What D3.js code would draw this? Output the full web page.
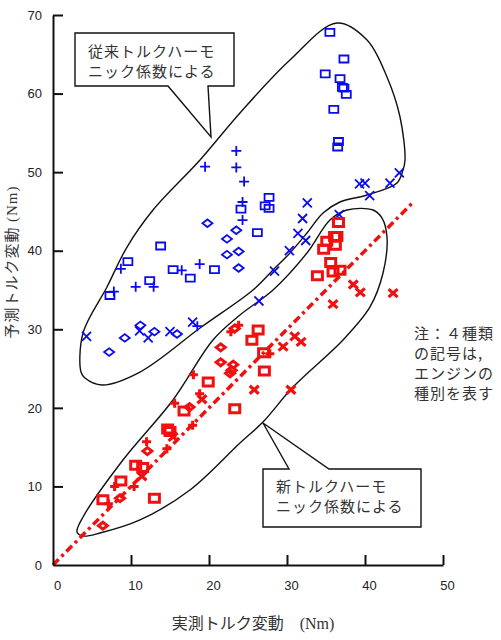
<!DOCTYPE html>
<html>
<head>
<meta charset="utf-8">
<script src="https://cdn.jsdelivr.net/npm/d3@7"></script>
<style>
  body { margin: 0; background: #fff; }
  svg { display: block; }
</style>
</head>
<body>
<svg id="chart" width="501" height="640"></svg>
<script>
// ---- data (Nm): [measured, predicted] ----
const blueSquare = [
  [35.5,67.8],[37.3,64.4],[34.9,62.5],[36.8,61.9],[37.1,60.8],[37.3,60.7],[37.6,59.9],[36.0,58.0],
  [36.6,53.9],[36.5,53.2],[27.7,46.8],[27.2,45.7],[27.7,45.4],[24.1,45.3],[26.2,42.3],[20.7,37.6],
  [17.6,36.5],[15.4,37.6],[13.8,40.6],[9.6,38.6],[12.4,36.2],[7.3,34.3]
];
const bluePlus = [
  [23.5,52.7],[19.5,50.7],[23.5,50.6],[24.5,48.8],[24.3,46.2],[24.3,43.9],[18.8,38.3],[16.5,37.5],
  [8.7,37.7],[12.9,35.4],[10.6,35.4],[7.8,34.8],[18.5,30.4]
];
const blueX = [
  [4.3,29.1],[11.1,29.8],[12.2,28.9],[15.0,29.7],[17.9,30.9],[26.4,33.6],[28.4,37.4],[30.3,40.0],
  [31.4,42.2],[32.4,41.3],[32.0,44.1],[32.6,46.1],[36.7,44.6],[39.3,48.5],[40.0,48.6],[43.2,48.6],
  [44.4,49.9],[40.6,47.0]
];
const blueDiamond = [
  [19.8,43.5],[23.5,42.6],[22.3,41.5],[22.3,39.5],[23.8,39.9],[23.8,37.8],[11.2,30.5],[13.0,29.7],
  [15.9,29.4],[9.2,28.9],[7.2,27.1]
];
const redSquare = [
  [36.6,43.6],[36.1,41.8],[36.4,41.8],[35.1,41.2],[36.2,40.7],[34.7,40.2],[35.6,38.5],[35.9,37.3],
  [36.8,37.5],[33.9,36.8],[26.3,29.9],[25.5,28.6],[27.0,27.0],[27.1,24.7],[19.9,23.3],[23.3,19.9],
  [16.8,19.6],[14.7,17.3],[15.0,17.0],[10.6,12.7],[11.5,12.4],[8.7,10.7],[13.0,8.5],[6.4,8.3]
];
const redPlus = [
  [27.8,26.9],[18.0,24.2],[18.8,21.8],[15.6,20.6],[17.9,17.8],[12.0,15.7],[14.6,14.8],[10.4,10.0],
  [7.9,10.0],[7.1,7.8],[22.8,29.7],[23.8,30.5]
];
const redX = [
  [29.5,27.8],[31.0,29.1],[31.8,28.4],[25.8,22.3],[30.5,22.3],[19.1,21.1],[15.4,16.3],[11.4,11.3],
  [38.5,35.7],[39.4,34.7],[43.6,34.6],[35.9,33.2]
];
const redDiamond = [
  [21.5,27.7],[21.5,25.8],[23.1,25.5],[22.9,24.8],[22.7,24.4],[17.5,20.1],[12.1,14.5],[8.6,8.5],
  [6.4,5.0],[23.3,30.1]
];

// envelope outlines (same units)
const upperBlob = [
  [3.59,24.56],[3.85,29.53],[6.92,35.38],[9.49,40.47],[12.82,45.18],[18.85,51.55],[23.97,57.53],
  [30.38,64.27],[36.41,68.98],[40.26,66.82],[42.82,62.11],[44.49,57.02],[45.13,51.55],[44.87,50.27],
  [44.10,48.62],[40.26,47.09],[36.79,46.20],[34.62,44.80],[32.56,42.25],[30.38,39.71],[28.21,37.55],
  [25.64,35.00],[18.85,30.16],[11.15,24.56],[6.28,22.91],[4.10,23.80]
];
const lowerBlob = [
  [3.08,4.20],[3.85,6.11],[8.97,13.36],[15.38,21.00],[20.51,28.64],[23.97,31.82],[28.21,35.00],
  [32.56,39.71],[35.51,43.91],[37.69,45.18],[41.03,45.18],[42.18,44.16],[42.82,41.75],[42.31,37.16],
  [40.64,32.84],[37.18,28.64],[30.77,22.65],[26.92,18.20],[23.97,15.53],[17.56,9.55],[11.15,5.73],
  [6.03,4.07],[3.85,3.69]
];
const refLine = [[0,0],[46,46]];

const xTicks = [0,10,20,30,40,50];
const yTicks = [0,10,20,30,40,50,60,70];

const BLUE = "#0a0af0", RED = "#f01010";
const JP = "'Noto Sans CJK JP', sans-serif";

// ---- layout ----
const svg = d3.select("#chart");
const x = d3.scaleLinear().domain([0, 50]).range([53, 443]);
const y = d3.scaleLinear().domain([0, 70]).range([565, 15]);

svg.append("rect").attr("width", 501).attr("height", 640).attr("fill", "#fff");

// envelopes
const blob = d3.line().x(d => x(d[0])).y(d => y(d[1])).curve(d3.curveCatmullRomClosed.alpha(0.5));
svg.append("g").attr("fill", "none").attr("stroke", "#111").attr("stroke-width", 1.4)
  .selectAll("path").data([upperBlob, lowerBlob]).join("path")
  .attr("d", blob);

// y = x reference line
svg.append("path")
  .attr("d", d3.line().x(d => x(d[0])).y(d => y(d[1]))(refLine))
  .attr("stroke", RED).attr("stroke-width", 3.5).attr("fill", "none")
  .attr("stroke-dasharray", "8,4,3,4");

// markers
function shapePath(shape, cx, cy, s) {
  if (shape === "square") return `M${cx-s.w},${cy-s.h}h${2*s.w}v${2*s.h}h${-2*s.w}Z`;
  if (shape === "diamond") return `M${cx-s.w},${cy}L${cx},${cy-s.h}L${cx+s.w},${cy}L${cx},${cy+s.h}Z`;
  if (shape === "plus") return `M${cx-s.w},${cy}h${2*s.w}M${cx},${cy-s.h}v${2*s.h}`;
  return `M${cx-s.w},${cy-s.h}l${2*s.w},${2*s.h}M${cx-s.w},${cy+s.h}l${2*s.w},${-2*s.h}`;
}
function markers(data, shape, color, sw, s) {
  svg.append("g").attr("fill", "none").attr("stroke", color).attr("stroke-width", sw)
    .selectAll("path").data(data).join("path")
    .attr("d", d => shapePath(shape, x(d[0]), y(d[1]), s));
}
markers(blueSquare, "square", BLUE, 1.8, {w: 4.5, h: 3.5});
markers(bluePlus, "plus", BLUE, 1.8, {w: 5, h: 5});
markers(blueX, "x", BLUE, 1.8, {w: 4.5, h: 4.5});
markers(blueDiamond, "diamond", BLUE, 1.8, {w: 5, h: 3.8});
markers(redSquare, "square", RED, 3, {w: 5, h: 4});
markers(redPlus, "plus", RED, 3, {w: 4.5, h: 4.5});
markers(redX, "x", RED, 3.2, {w: 4.5, h: 4});
markers(redDiamond, "diamond", RED, 3, {w: 4.5, h: 3.5});

// axes (ticks inward)
const gx = svg.append("g").attr("transform", `translate(0,${y(0)})`)
  .call(d3.axisBottom(x).tickValues(xTicks).tickSizeInner(-10).tickSizeOuter(0).tickPadding(16));
const gy = svg.append("g").attr("transform", `translate(${x(0)},0)`)
  .call(d3.axisLeft(y).tickValues(yTicks).tickSizeInner(-10).tickSizeOuter(0).tickPadding(11));
[gx, gy].forEach(g => {
  g.select(".domain").attr("stroke", "#111").attr("stroke-width", 2);
  g.selectAll(".tick line").attr("stroke", "#111").attr("stroke-width", 2);
  g.selectAll(".tick text").attr("font-family", "'Liberation Sans', Arial, sans-serif")
    .attr("font-size", 13).attr("fill", "#222");
});
gx.selectAll(".tick text").attr("dx", 4);
gy.selectAll(".tick line").filter(d => d === 0).remove();
gx.selectAll(".tick line").filter(d => d === 0).remove();

// axis titles
const xt = svg.append("text").attr("x", 253).attr("y", 629).attr("text-anchor", "middle")
  .attr("font-size", 16).attr("fill", "#333");
xt.append("tspan").attr("font-family", JP).text("実測トルク変動　");
xt.append("tspan").attr("font-family", "'Liberation Serif', serif").text("(Nm)");

const yt = svg.append("text").attr("transform", "translate(17,262) rotate(-90)")
  .attr("text-anchor", "middle").attr("font-size", 15).attr("letter-spacing", 1).attr("fill", "#333");
yt.append("tspan").attr("font-family", JP).text("予測トルク変動 ");
yt.append("tspan").attr("font-family", "'Liberation Serif', serif").text("(Nm)");

// callouts
const callouts = [
  { path: "M75,33H234V86H208L211,137L168,86H75Z", tx: 88, ty: [57, 77],
    lines: ["従来トルクハーモ", "ニック係数による"] },
  { path: "M263,469H289L263,423L329,469H421V527H263Z", tx: 276, ty: [492, 512],
    lines: ["新トルクハーモ", "ニック係数による"] }
];
callouts.forEach(c => {
  svg.append("path").attr("d", c.path).attr("fill", "#fff").attr("stroke", "#111").attr("stroke-width", 1.4);
  c.lines.forEach((t, i) => svg.append("text").attr("x", c.tx).attr("y", c.ty[i])
    .attr("font-family", JP).attr("font-size", 15).attr("letter-spacing", 1)
    .attr("fill", "#333").text(t));
});

// note
const note = ["注：４種類", "の記号は,", "エンジンの", "種別を表す"];
svg.append("g").selectAll("text").data(note).join("text")
  .attr("x", 414).attr("y", (d, i) => 339 + i * 20)
  .attr("font-family", JP).attr("font-size", 15).attr("letter-spacing", 1)
  .attr("fill", "#333").text(d => d);
</script>
</body>
</html>
